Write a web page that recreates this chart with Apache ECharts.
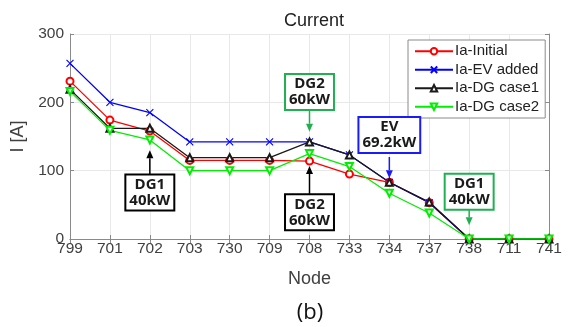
<!DOCTYPE html>
<html>
<head>
<meta charset="utf-8">
<script src="https://cdn.jsdelivr.net/npm/echarts@6/dist/echarts.min.js"></script>
<style>
  html, body { margin: 0; padding: 0; background: #fff; }
  #chart { width: 568px; height: 327px; }
</style>
</head>
<body>
<div id="chart"></div>
<script>
// 节点
var nodes = ['799', '701', '702', '703', '730', '709', '708', '733', '734', '737', '738', '711', '741'];
// 电流 (A)
var iaInitial = [231, 174, 158, 115, 115, 115, 114, 95, 83, 53, 0, 0, 0];
var iaEvAdded = [257, 200, 185, 142, 142, 142, 142, 123, 83, 53, 0, 0, 0];
var iaDgCase1 = [219, 162, 162, 119, 119, 119, 142, 123, 83, 54, 0, 0, 0];
var iaDgCase2 = [216, 159, 145, 100, 100, 100, 125, 106, 67, 38, 0, 0, 0];
var yTicks = [0, 100, 200, 300];

// 标注: 文字, 颜色, 节点, 框顶/框底/箭头 (按数值)
var notes = [
    { text: 'DG1\n40kW', color: '#000000', node: '702', boxTop: 93, boxBottom: 45, tip: 130 },
    { text: 'DG2\n60kW', color: '#1fb050', node: '708', boxTop: 240, boxBottom: 189, tip: 157 },
    { text: 'DG2\n60kW', color: '#000000', node: '708', boxTop: 64, boxBottom: 13, tip: 107 },
    { text: 'EV\n69.2kW', color: '#1a1aff', node: '734', boxTop: 177, boxBottom: 120, tip: 89 },
    { text: 'DG1\n40kW', color: '#1fb050', node: '738', boxTop: 94, boxBottom: 42, tip: 20 }
];

var chart = echarts.init(document.getElementById('chart'));
var axisGray = '#8a8a8a';
var labelColor = '#404040';
var font = 'Liberation Sans, Arial, sans-serif';

function makeSeries(name, data, color, symbol, rotate) {
    return {
        name: name,
        type: 'line',
        data: data,
        color: color,
        symbol: symbol,
        symbolSize: 7,
        symbolRotate: rotate || 0,
        showAllSymbol: true,
        lineStyle: { width: 1.3, color: color },
        itemStyle: { color: color, borderColor: color, borderWidth: 1.1 },
        animation: false
    };
}

var option = {
    animation: false,
    title: {
        text: 'Current',
        left: 309,
        textAlign: 'center',
        top: 7,
        textStyle: { fontSize: 18, fontWeight: 'normal', color: '#222', fontFamily: font }
    },
    grid: { left: 70, right: 19, top: 34, bottom: 88 },
    legend: {
        orient: 'vertical',
        left: 408,
        top: 40,
        width: 136,
        padding: [3, 6, 3, 6],
        itemWidth: 38,
        itemHeight: 8,
        itemGap: 2,
        backgroundColor: '#fff',
        borderColor: axisGray,
        borderWidth: 1,
        textStyle: { fontSize: 15, color: '#222', fontFamily: font, lineHeight: 16.5, padding: [0, 0, 0, -3] },
        data: ['Ia-Initial', 'Ia-EV added', 'Ia-DG case1', 'Ia-DG case2']
    },
    xAxis: [{
        type: 'category',
        data: nodes,
        boundaryGap: false,
        name: 'Node',
        nameLocation: 'middle',
        nameGap: 31,
        nameTextStyle: { fontSize: 18, color: labelColor, fontFamily: font },
        axisLine: { lineStyle: { color: axisGray } },
        axisTick: { inside: true, length: 4, lineStyle: { color: axisGray } },
        axisLabel: { fontSize: 15.5, color: labelColor, margin: 2, fontFamily: font, interval: 0 },
        splitLine: { show: true, lineStyle: { color: '#e8e8e8' } }
    }, {
        type: 'category',
        data: nodes,
        boundaryGap: false,
        position: 'top',
        axisLine: { lineStyle: { color: axisGray } },
        axisTick: { inside: true, length: 4, lineStyle: { color: axisGray } },
        axisLabel: { show: false },
        splitLine: { show: false }
    }],
    yAxis: [{
        type: 'value',
        min: yTicks[0],
        max: yTicks[yTicks.length - 1],
        interval: 100,
        name: 'I [A]',
        nameLocation: 'middle',
        nameRotate: 90,
        nameGap: 37,
        nameTextStyle: { fontSize: 18, color: labelColor, fontFamily: font },
        axisLine: { show: true, lineStyle: { color: axisGray } },
        axisTick: { show: true, inside: true, length: 4, lineStyle: { color: axisGray } },
        axisLabel: { fontSize: 15.5, color: labelColor, margin: 6, fontFamily: font },
        splitLine: { show: true, lineStyle: { color: '#e8e8e8' } }
    }, {
        type: 'value',
        min: yTicks[0],
        max: yTicks[yTicks.length - 1],
        interval: 100,
        position: 'right',
        axisLine: { show: true, lineStyle: { color: axisGray } },
        axisTick: { show: true, inside: true, length: 4, lineStyle: { color: axisGray } },
        axisLabel: { show: false },
        splitLine: { show: false }
    }],
    series: [
        makeSeries('Ia-Initial', iaInitial, '#ff0000', 'emptyCircle'),
        makeSeries('Ia-EV added', iaEvAdded, '#0000ff', 'path://M0,0L10,10M10,0L0,10'),
        makeSeries('Ia-DG case1', iaDgCase1, '#1a1a1a', 'emptyTriangle'),
        makeSeries('Ia-DG case2', iaDgCase2, '#00ee00', 'emptyTriangle', 180)
    ]
};
chart.setOption(option);

// 画标注框和箭头
function drawNotes() {
    var els = [];
    notes.forEach(function(n) {
        var top = chart.convertToPixel({ xAxisIndex: 0, yAxisIndex: 0 }, [n.node, n.boxTop]);
        var bottom = chart.convertToPixel({ xAxisIndex: 0, yAxisIndex: 0 }, [n.node, n.boxBottom]);
        var tip = chart.convertToPixel({ xAxisIndex: 0, yAxisIndex: 0 }, [n.node, n.tip]);
        var x = top[0];
        var startY, dir;
        if (tip[1] > bottom[1]) { startY = bottom[1]; dir = 1; } else { startY = top[1]; dir = -1; }
        var headLen = 8;
        els.push({
            type: 'line',
            z: 100,
            shape: { x1: x, y1: startY, x2: x, y2: tip[1] - dir * headLen },
            style: { stroke: n.color, lineWidth: 1.5 }
        });
        els.push({
            type: 'polygon',
            z: 100,
            shape: { points: [[x - 3.5, tip[1] - dir * headLen], [x + 3.5, tip[1] - dir * headLen], [x, tip[1]]] },
            style: { fill: n.color }
        });
        els.push({
            type: 'text',
            z: 101,
            x: x,
            y: top[1],
            style: {
                text: n.text,
                align: 'center',
                verticalAlign: 'top',
                fill: '#1a1a1a',
                font: 'bold 15px "Open Sans", "Noto Sans", sans-serif',
                lineHeight: 16,
                padding: [1, 3, 1, 3],
                backgroundColor: '#fff',
                borderColor: n.color,
                borderWidth: 2
            }
        });
    });
    els.push({
        type: 'text',
        x: 310,
        y: 313,
        style: {
            text: '(b)',
            align: 'center',
            verticalAlign: 'middle',
            fill: '#111',
            font: '22px "Open Sans", "Noto Sans", sans-serif'
        }
    });
    chart.setOption({ graphic: els });
}
drawNotes();
</script>
</body>
</html>
